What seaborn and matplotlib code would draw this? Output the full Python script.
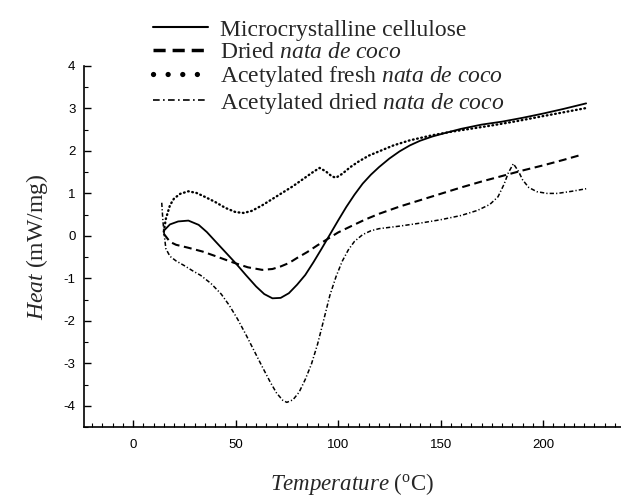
import numpy as np
import pandas as pd
import matplotlib
matplotlib.use("Agg")
import matplotlib.pyplot as plt
import seaborn as sns
from matplotlib.lines import Line2D
from matplotlib.ticker import MultipleLocator

# values (temperature in C, heat flow in mW/mg)
mcc_temp = [15, 18, 22, 27, 32, 36, 40, 45, 50, 55, 60, 64, 68, 72, 76, 80, 84, 88, 92, 96,
            100, 104, 108, 112, 116, 120, 125, 130, 135, 140, 146, 152, 160, 170, 180, 190,
            200, 210, 221]
mcc_heat = [0.12, 0.27, 0.34, 0.36, 0.26, 0.09, -0.12, -0.38, -0.64, -0.92, -1.19, -1.37,
            -1.47, -1.46, -1.35, -1.15, -0.92, -0.62, -0.30, 0.03, 0.36, 0.68, 0.97, 1.23,
            1.44, 1.62, 1.82, 1.99, 2.13, 2.24, 2.34, 2.42, 2.52, 2.62, 2.69, 2.78, 2.88,
            2.99, 3.12]

dried_temp = [15, 18, 21, 27, 34, 41, 49, 56, 63, 68, 72, 76, 80, 85, 90, 95, 100, 106, 113,
              120, 130, 140, 150, 160, 170, 180, 190, 200, 210, 218]
dried_heat = [0.05, -0.14, -0.21, -0.28, -0.37, -0.49, -0.63, -0.74, -0.80, -0.78, -0.72,
              -0.64, -0.52, -0.38, -0.22, -0.07, 0.08, 0.22, 0.38, 0.52, 0.69, 0.84, 0.99,
              1.14, 1.28, 1.41, 1.54, 1.66, 1.79, 1.90]

fresh_ac_temp = [15, 16, 18, 20, 23, 27, 31, 35, 40, 45, 50, 54, 58, 63, 68, 73, 78, 83, 88,
                 91, 94, 97, 99, 102, 106, 110, 115, 120, 127, 135, 146, 155, 163, 175, 187,
                 200, 210, 221]
fresh_ac_heat = [0.10, 0.40, 0.72, 0.88, 0.99, 1.05, 1.01, 0.92, 0.80, 0.66, 0.56, 0.54, 0.59,
                 0.72, 0.87, 1.02, 1.17, 1.34, 1.51, 1.60, 1.52, 1.40, 1.37, 1.46, 1.62, 1.75,
                 1.89, 1.99, 2.13, 2.25, 2.37, 2.45, 2.51, 2.60, 2.70, 2.82, 2.91, 3.01]

dried_ac_temp = [14, 14.5, 15, 16, 18, 21, 25, 29, 33, 38, 43, 47, 51, 55, 59, 63, 67, 70, 73,
                 75, 78, 81, 84, 87, 90, 93, 96, 99, 102, 105, 108, 112, 116, 120, 130, 140,
                 150, 160, 168, 174, 178, 181, 183, 185.5, 188, 190, 193, 197, 202, 207, 214,
                 221]
dried_ac_heat = [0.78, 0.40, 0.12, -0.30, -0.48, -0.59, -0.70, -0.82, -0.93, -1.12, -1.37,
                 -1.64, -1.96, -2.32, -2.70, -3.08, -3.45, -3.70, -3.87, -3.92, -3.86, -3.68,
                 -3.38, -3.02, -2.55, -1.98, -1.40, -0.96, -0.60, -0.33, -0.13, 0.03, 0.12,
                 0.17, 0.23, 0.30, 0.38, 0.48, 0.60, 0.74, 0.92, 1.22, 1.48, 1.70, 1.52, 1.32,
                 1.14, 1.04, 1.00, 1.00, 1.05, 1.11]

labels = [
    "Microcrystalline cellulose",
    r"Dried $\mathit{nata\ de\ coco}$",
    r"Acetylated fresh $\mathit{nata\ de\ coco}$",
    r"Acetylated dried $\mathit{nata\ de\ coco}$",
]

sns.set_style("ticks")
plt.rcParams['font.family'] = ['Liberation Serif', 'DejaVu Serif']
plt.rcParams['mathtext.fontset'] = 'custom'
plt.rcParams['mathtext.rm'] = 'Liberation Serif'
plt.rcParams['mathtext.it'] = 'Liberation Serif:italic'
plt.rcParams['xtick.direction'] = 'in'
plt.rcParams['ytick.direction'] = 'in'
plt.rcParams['axes.unicode_minus'] = False

fig = plt.figure(figsize=(6.21, 5.0), dpi=100)
ax = fig.add_axes([0.135, 0.146, 0.865, 0.722])

line_styles = [
    dict(linestyle='-', linewidth=1.3),
    dict(linestyle=(0, (3.8, 2.2)), linewidth=1.5),
    dict(linestyle=(0, (0.3, 1.5)), linewidth=1.7, dash_capstyle='round'),
    dict(linestyle=(0, (2.8, 1.4, 0.8, 1.4)), linewidth=1.1),
]
curves = [(mcc_temp, mcc_heat), (dried_temp, dried_heat),
          (fresh_ac_temp, fresh_ac_heat), (dried_ac_temp, dried_ac_heat)]
for (t, h), style in zip(curves, line_styles):
    sns.lineplot(x=t, y=h, ax=ax, color='black', sort=False, **style)

ax.set_xlim(-24, 238)
ax.set_ylim(-4.5, 4.0)
ax.xaxis.set_major_locator(MultipleLocator(50))
ax.xaxis.set_minor_locator(MultipleLocator(5))
ax.yaxis.set_major_locator(MultipleLocator(1))
ax.yaxis.set_minor_locator(MultipleLocator(0.5))
ax.set_xticks([0, 50, 100, 150, 200])
ax.tick_params(which='major', length=5, width=1.0, colors='black')
ax.tick_params(which='minor', length=3, width=0.8, colors='black')
ax.tick_params(axis='x', pad=9)
ax.tick_params(axis='y', pad=6)
for lbl in ax.get_xticklabels() + ax.get_yticklabels():
    lbl.set_family(['Liberation Sans', 'DejaVu Sans'])
    lbl.set_fontsize(9.5)
for sp in ax.spines.values():
    sp.set_color('black')
    sp.set_linewidth(1.2)
sns.despine(ax=ax)

ax.set_xlabel(r"$\mathit{Temperature}$ ($^{\mathrm{o}}$C)", fontsize=16.5, labelpad=14)
ax.set_ylabel(r"$\mathit{Heat}$ (mW/mg)", fontsize=17, labelpad=10)

# legend keys drawn bolder than the curves, as in the original
handles = [
    Line2D([], [], color='black', linestyle='-', linewidth=1.5),
    Line2D([], [], color='black', linestyle=(0, (3.5, 2.0)), linewidth=2.5),
    Line2D([], [], color='black', linestyle=(0, (0.01, 2.76)), linewidth=3.8,
           dash_capstyle='round'),
    Line2D([], [], color='black', linestyle=(0, (4, 2, 1, 2)), linewidth=1.2),
]
ax.legend(handles, labels, loc='upper left', bbox_to_anchor=(153 / 621, 0.962),
          bbox_transform=fig.transFigure, frameon=False, fontsize=17,
          handlelength=2.35, handletextpad=0.5, labelspacing=0.05,
          borderpad=0, borderaxespad=0)

fig.savefig("out.png", dpi=100)
